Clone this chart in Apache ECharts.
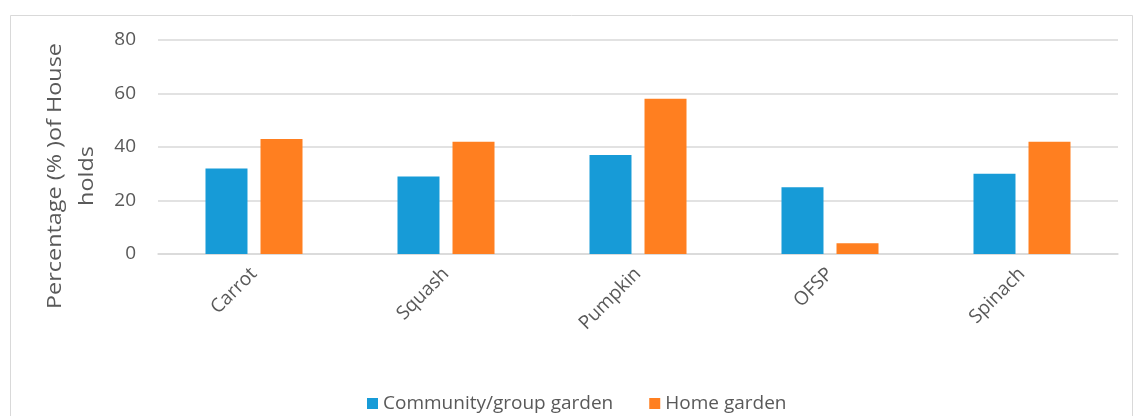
<!DOCTYPE html>
<html><head><meta charset="utf-8">
<script src="https://cdn.jsdelivr.net/npm/echarts@6/dist/echarts.min.js"></script>
<style>html,body{margin:0;padding:0;background:#fff}#c{width:1134px;height:416px}</style>
</head><body><div id="c"></div>
<script>
const categories = ['Carrot', 'Squash', 'Pumpkin', 'OFSP', 'Spinach'];
const communityGarden = [32, 29, 37, 25, 30];
const homeGarden = [43, 42, 58, 4, 42];
const seriesNames = ['Community/group garden', 'Home garden'];
const yAxisTitle = 'Percentage (% )of House\nholds';

const FONT = '"Open Sans", "Noto Sans", sans-serif';
const chart = echarts.init(document.getElementById('c'));
chart.setOption({
  animation: false,
  backgroundColor: '#fff',
  color: ['#179BD7', '#FF7F20'],
  graphic: [
    { type: 'rect', left: 8, top: 13, shape: { width: 1122, height: 420 }, style: { fill: 'none', stroke: '#D9D9D9', lineWidth: 1 }, silent: true },
    { type: 'text', x: 71, y: 176, rotation: Math.PI / 2, scaleX: 1.17, style: { text: yAxisTitle, font: '20px ' + FONT, fill: '#595959', textAlign: 'center', textVerticalAlign: 'middle', lineHeight: 32 } }
  ],
  grid: { left: 158, right: 16, top: 40, bottom: 162, containLabel: false },
  legend: {
    top: 389, left: 362, itemWidth: 11, itemHeight: 11, itemGap: 36,
    icon: 'rect',
    textStyle: { fontFamily: FONT, fontSize: 19, color: '#595959' },
    data: seriesNames
  },
  xAxis: {
    type: 'category', data: categories,
    axisLine: { lineStyle: { color: '#D9D9D9', width: 1.5 } },
    axisTick: { show: false },
    axisLabel: { rotate: 45, fontFamily: FONT, fontSize: 19, color: '#595959', margin: 17 }
  },
  yAxis: {
    type: 'value', min: 0, max: 80, interval: 20,
    axisLine: { show: false }, axisTick: { show: false },
    splitLine: { lineStyle: { color: '#D9D9D9', width: 1.5 } },
    axisLabel: { fontFamily: FONT, fontSize: 19, color: '#595959', margin: 22 }
  },
  series: [
    { name: seriesNames[0], type: 'bar', data: communityGarden, barWidth: 42, barGap: '31%' },
    { name: seriesNames[1], type: 'bar', data: homeGarden, barWidth: 42, barGap: '31%' }
  ]
});
</script></body></html>
